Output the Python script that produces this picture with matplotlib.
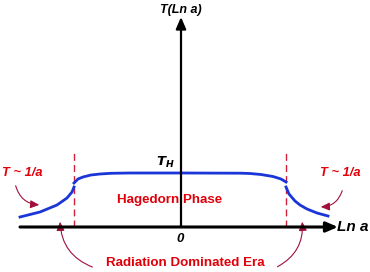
import numpy as np
import matplotlib
matplotlib.use("Agg")
import matplotlib.pyplot as plt
from matplotlib.patches import FancyArrowPatch

# coordinates: origin where the two axes cross, units ~ pixels
left_x = [-161, -141, -124, -114, -109, -107]
left_y = [10, 15, 22, 29, 35, 40]
mid_x = [-107, -103, -98, -90, -81, -70, -51, 0, 60, 69, 80, 92, 100, 105]
mid_y = [44, 48, 50, 52, 53, 53.7, 54, 54, 53.8, 53.5, 52.5, 50.5, 48, 45]
right_x = [105, 108, 114, 119, 126, 136, 147]
right_y = [40, 33, 26, 22, 18, 14, 11]

boundaries = [-107, 105]
dash_top = 75

plt.rcParams['font.family'] = ['Liberation Sans', 'DejaVu Sans']
fig = plt.figure(figsize=(3.7, 2.72), dpi=100)
ax = fig.add_axes([0, 0, 1, 1])
ax.set_xlim(-181, 189)
ax.set_ylim(-45, 227)
ax.axis("off")

# axes
ax.annotate("", xy=(157, 0), xytext=(-161, 0),
            arrowprops=dict(arrowstyle="-|>,head_length=0.7,head_width=0.3", color="black", lw=2.2, shrinkA=0, shrinkB=0))
ax.annotate("", xy=(0, 210), xytext=(0, 0),
            arrowprops=dict(arrowstyle="-|>,head_length=0.7,head_width=0.3", color="black", lw=1.6, shrinkA=0, shrinkB=0))

# dashed boundaries
for b in boundaries:
    ax.plot([b, b], [0, dash_top], color="#d0203c", lw=1.0, ls=(0, (5, 3)))

blue = "#1a35d8"
ax.plot(left_x, left_y, color=blue, lw=2)
ax.plot(mid_x, mid_y, color=blue, lw=2)
ax.plot(right_x, right_y, color=blue, lw=2)

red = "#e0000a"
dark = "#a0103a"
ax.text(0, 211, "T(Ln a)", ha="center", va="bottom", fontsize=9, fontweight="bold", style="italic")
ax.text(156, 0, "Ln a", ha="left", va="center", fontsize=11, fontweight="bold", style="italic")
ax.text(-1, -6, "0", ha="center", va="top", fontsize=9.5, fontweight="bold", style="italic")
ax.text(-16, 57, r"$\mathbfit{T}_{\mathbfit{H}}$", ha="center", va="bottom", fontsize=9.5)
ax.text(-11.5, 27, "Hagedorn Phase", ha="center", va="center", fontsize=9.6, fontweight="bold", color=red)
ax.text(4, -36, "Radiation Dominated Era", ha="center", va="center", fontsize=9.6, fontweight="bold", color=red)
ax.text(-179, 54, "T ~ 1/a", ha="left", va="center", fontsize=9.3, fontweight="bold", style="italic", color=red)
ax.text(179, 54, "T ~ 1/a", ha="right", va="center", fontsize=9.3, fontweight="bold", style="italic", color=red)

arrows = [((-166, 44), (-139, 22), 0.4),
          ((-86, -41), (-121, 8), -0.35),
          ((162, 39), (137, 20), -0.4),
          ((94, -41), (121, 8), 0.35)]
for start, end, rad in arrows:
    ax.add_patch(FancyArrowPatch(start, end, connectionstyle="arc3,rad=%s" % rad,
                                 arrowstyle="-|>,head_length=3.5,head_width=1.6",
                                 color=dark, lw=0.8, mutation_scale=1.5))

fig.savefig("out.png", dpi=100)
